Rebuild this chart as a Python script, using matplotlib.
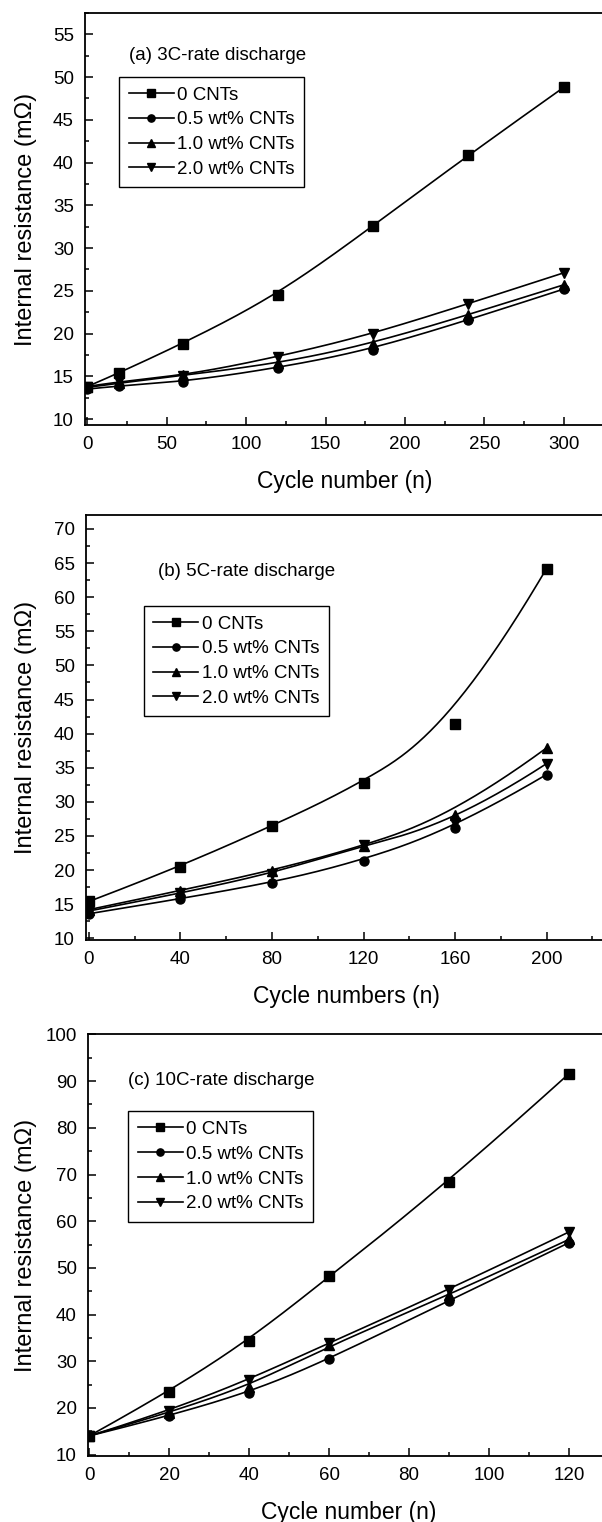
import numpy as np
import matplotlib
matplotlib.use("Agg")
import matplotlib.pyplot as plt
from matplotlib.ticker import MultipleLocator

plt.rcParams['font.family'] = ['Liberation Sans', 'DejaVu Sans']

labels = ['0 CNTs', '0.5 wt% CNTs', '1.0 wt% CNTs', '2.0 wt% CNTs']
markers = ['s', 'o', '^', 'v']

# (a) 3C-rate discharge
cyc_3c = [0, 20, 60, 120, 180, 240, 300]
r3c_0 = [13.8, 15.4, 18.8, 24.5, 32.6, 40.9, 48.8]
r3c_05 = [13.5, 13.9, 14.3, 16.0, 18.1, 21.6, 25.2]
r3c_10 = [13.7, 14.2, 15.1, 16.5, 18.8, 22.2, 25.7]
r3c_20 = [13.8, 14.4, 15.0, 17.3, 19.9, 23.5, 27.1]

# (b) 5C-rate discharge
cyc_5c = [0, 40, 80, 120, 160, 200]
r5c_0 = [15.4, 20.5, 26.5, 32.7, 41.4, 64.2]
r5c_05 = [13.6, 15.8, 18.1, 21.4, 26.1, 34.0]
r5c_10 = [14.2, 17.0, 19.9, 23.5, 28.1, 37.9]
r5c_20 = [14.0, 16.6, 19.4, 23.7, 26.9, 35.6]

# (c) 10C-rate discharge
cyc_10c = [0, 20, 40, 60, 90, 120]
r10c_0 = [14.0, 23.5, 34.4, 48.2, 68.4, 91.6]
r10c_05 = [14.0, 18.3, 23.2, 30.4, 43.0, 55.4]
r10c_10 = [14.0, 19.0, 24.5, 33.5, 44.1, 56.1]
r10c_20 = [14.0, 19.4, 26.0, 34.0, 45.3, 57.7]


def bspline(xs, ys, n=300):
    # clamped cubic B-spline with the data as control points (Origin style line)
    pts = np.column_stack([xs, ys]).astype(float)
    k = 3
    m = len(pts)
    knots = np.concatenate([np.zeros(k), np.arange(m - k + 1), np.full(k, m - k)]).astype(float)
    t = np.linspace(0, m - k, n)
    N = np.zeros((n, len(knots) - 1))
    for i in range(len(knots) - 1):
        N[:, i] = (knots[i] <= t) & (t < knots[i + 1])
    N[t == knots[-1], m - 1] = 1
    for p in range(1, k + 1):
        Nn = np.zeros((n, len(knots) - 1 - p))
        for i in range(len(knots) - 1 - p):
            d1 = knots[i + p] - knots[i]
            d2 = knots[i + p + 1] - knots[i + 1]
            a = (t - knots[i]) / d1 * N[:, i] if d1 > 0 else 0
            b = (knots[i + p + 1] - t) / d2 * N[:, i + 1] if d2 > 0 else 0
            Nn[:, i] = a + b
        N = Nn
    c = N @ pts
    return c[:, 0], c[:, 1]


W, H = 602, 1522
fig = plt.figure(figsize=(W / 100, H / 100), dpi=100)

panels = [
    dict(x=cyc_3c, ys=[r3c_0, r3c_05, r3c_10, r3c_20], box=(85, 13, 520, 412),
         xlim=(-1.5, 326), ylim=(9.3, 57.5), xmaj=50, xmin=25, ymaj=5, ymin=2.5,
         xlabel='Cycle number (n)', title='(a) 3C-rate discharge', tpos=(26.5, 52.5),
         lpos=(20, 50.0)),
    dict(x=cyc_5c, ys=[r5c_0, r5c_05, r5c_10, r5c_20], box=(86, 515, 520, 425),
         xlim=(-1.3, 226), ylim=(9.75, 72.05), xmaj=40, xmin=20, ymaj=5, ymin=2.5,
         xlabel='Cycle numbers (n)', title='(b) 5C-rate discharge', tpos=(30.2, 63.7),
         lpos=(24, 58.7)),
    dict(x=cyc_10c, ys=[r10c_0, r10c_05, r10c_10, r10c_20], box=(88, 1034, 521, 422),
         xlim=(-0.3, 130), ylim=(9.7, 100.1), xmaj=20, xmin=10, ymaj=10, ymin=5,
         xlabel='Cycle number (n)', title='(c) 10C-rate discharge', tpos=(9.75, 90.1),
         lpos=(9.75, 83.5)),
]

for p in panels:
    l, t, w, h = p['box']
    ax = fig.add_axes([l / W, 1 - (t + h) / H, w / W, h / H])
    for ys, m, lab in zip(p['ys'], markers, labels):
        sx, sy = bspline(p['x'], ys)
        ax.plot(sx, sy, color='black', linewidth=1.2)
        ax.plot(p['x'], ys, linestyle='none', marker=m, markersize=6.5, color='black')
        # legend entry: line with marker
        ax.plot([], [], color='black', linewidth=1.2, marker=m, markersize=6.5, label=lab)
    ax.set_xlim(*p['xlim'])
    ax.set_ylim(*p['ylim'])
    ax.xaxis.set_major_locator(MultipleLocator(p['xmaj']))
    ax.xaxis.set_minor_locator(MultipleLocator(p['xmin']))
    ax.yaxis.set_major_locator(MultipleLocator(p['ymaj']))
    ax.yaxis.set_minor_locator(MultipleLocator(p['ymin']))
    ax.tick_params(which='both', direction='in', top=False, right=False, width=1.1,
                   labelsize=13.5)
    ax.tick_params(which='major', length=5.5, pad=8)
    ax.tick_params(which='minor', length=3)
    for s in ['left', 'bottom', 'top']:
        ax.spines[s].set_linewidth(1.3)
    ax.spines['right'].set_visible(False)
    ax.set_xlabel(p['xlabel'], fontsize=16.5, labelpad=12)
    ax.set_ylabel('Internal resistance (mΩ)', fontsize=17)
    ax.yaxis.set_label_coords(-(l - 37) / w, 0.5)
    ax.text(p['tpos'][0], p['tpos'][1], p['title'], fontsize=13.5, va='center', ha='left')
    leg = ax.legend(loc='upper left', bbox_to_anchor=p['lpos'], bbox_transform=ax.transData,
                    borderaxespad=0, fontsize=13.5, frameon=True, fancybox=False,
                    framealpha=1, edgecolor='black', handlelength=2.4, handletextpad=0.2,
                    labelspacing=0.41, borderpad=0.5, numpoints=1, markerscale=0.8)
    leg.get_frame().set_linewidth(1.0)

plt.savefig('out.png', dpi=100, facecolor='white')
